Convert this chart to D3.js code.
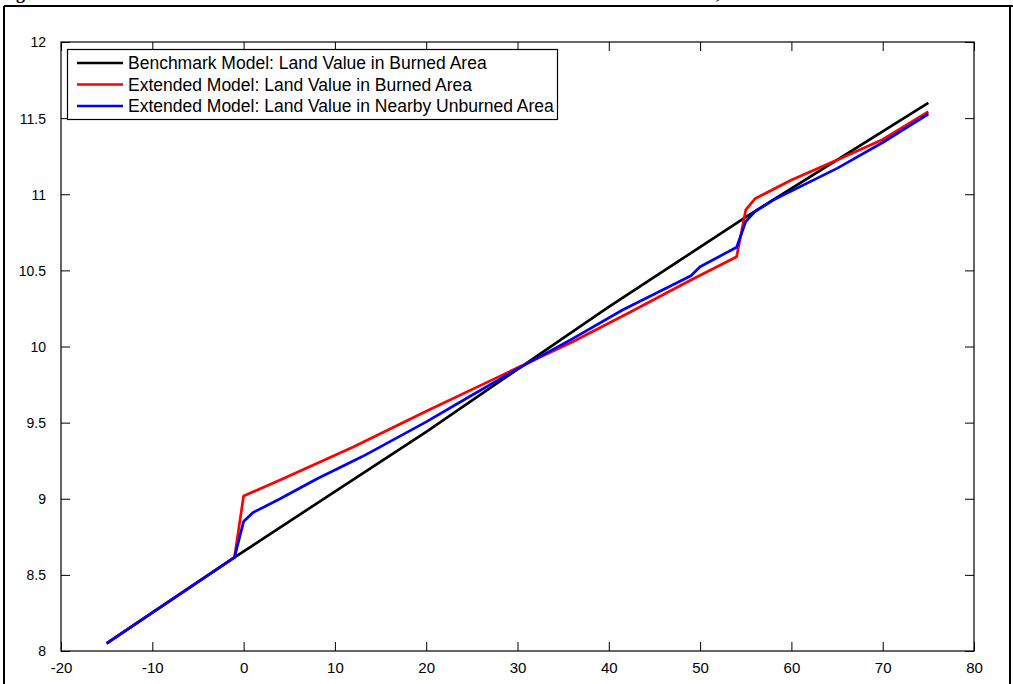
<!DOCTYPE html>
<html><head><meta charset="utf-8">
<script src="https://cdn.jsdelivr.net/npm/d3@7"></script>
<style>body{margin:0;background:#fff}svg{display:block}</style>
</head><body><svg id="c" width="1013" height="684"></svg>
<script>
const xTicks = [-20,-10,0,10,20,30,40,50,60,70,80];
const xTickLabels = ["-20","-10","0","10","20","30","40","50","60","70","80"];
const yTicks = [8,8.5,9,9.5,10,10.5,11,11.5,12];
const yTickLabels = ["8","8.5","9","9.5","10","10.5","11","11.5","12"];
const seriesNames = ["Benchmark Model: Land Value in Burned Area","Extended Model: Land Value in Burned Area","Extended Model: Land Value in Nearby Unburned Area"];
const seriesColors = ["#000000","#ff0000","#0000ff"];
const benchX = [-15,-1,20,40,55,75];
const benchY = [8.05,8.615,9.44,10.26,10.85,11.60];
const burnX = [-15,-1,0,4,12,20,30,36,42,49,54,55,56,60,65,70,75];
const burnY = [8.05,8.615,9.018,9.123,9.34,9.575,9.86,10.03,10.215,10.437,10.59,10.897,10.97,11.094,11.225,11.36,11.542];
const nearX = [-15,-1,0,1,4,8,13,20,25,30,36,41.5,49,50,54,55,56,58,65,70,75];
const nearY = [8.05,8.615,8.85,8.908,9.0,9.13,9.277,9.505,9.68,9.853,10.05,10.24,10.465,10.524,10.652,10.82,10.886,10.962,11.17,11.34,11.527];

const svg = d3.select("#c");
const L=61, R=974, T=42, B=651;
const x = d3.scaleLinear().domain([-20,80]).range([L,R]);
const y = d3.scaleLinear().domain([8,12]).range([B,T]);

// page frame and clipped title (cut off at the top edge, as in the source)
svg.append("text").attr("x",0).attr("y",-1).attr("font-family","Liberation Serif").attr("font-weight","bold").attr("font-size",18).text("Figure");
svg.append("text").attr("x",716).attr("y",-1).attr("font-family","Liberation Serif").attr("font-weight","bold").attr("font-size",18).text(",");
svg.append("line").attr("x1",4).attr("x2",1013).attr("y1",6).attr("y2",6).attr("stroke","#000").attr("stroke-width",2);
svg.append("line").attr("x1",4).attr("x2",4).attr("y1",6).attr("y2",684).attr("stroke","#000").attr("stroke-width",2);
svg.append("line").attr("x1",1010).attr("x2",1010).attr("y1",6).attr("y2",684).attr("stroke","#000").attr("stroke-width",2);

// axes
const tl = 9;
const ax = svg.append("g").attr("transform",`translate(0,${B})`)
  .call(d3.axisBottom(x).tickValues(xTicks).tickSize(-tl).tickPadding(tl+5).tickFormat((d,i)=>xTickLabels[i]));
const ax2 = svg.append("g").attr("transform",`translate(0,${T})`)
  .call(d3.axisTop(x).tickValues(xTicks).tickSize(-tl).tickFormat(""));
const ay = svg.append("g").attr("transform",`translate(${L},0)`)
  .call(d3.axisLeft(y).tickValues(yTicks).tickSize(-tl).tickPadding(tl+6).tickFormat((d,i)=>yTickLabels[i]));
const ay2 = svg.append("g").attr("transform",`translate(${R},0)`)
  .call(d3.axisRight(y).tickValues(yTicks).tickSize(-tl).tickFormat(""));
[ax,ax2,ay,ay2].forEach(g=>{
  g.select(".domain").remove();
  g.selectAll("line").attr("stroke","#000");
  g.selectAll("text").attr("fill","#000").attr("font-size",14).attr("font-family","Liberation Sans");
});
ax.selectAll("text").attr("font-family","Liberation Sans Narrow, Liberation Sans").attr("font-size",15).attr("dy","0.5em");
ay.selectAll("text").attr("dy","0.35em");
svg.append("rect").attr("x",L).attr("y",T).attr("width",R-L).attr("height",B-T).attr("fill","none").attr("stroke","#000").attr("stroke-width",1.2);

// lines
const series = [[benchX,benchY],[burnX,burnY],[nearX,nearY]];
const line = d3.line().x(d=>x(d[0])).y(d=>y(d[1]));
series.forEach((s,i)=>{
  const pts = s[0].map((v,j)=>[v,s[1][j]]);
  svg.append("path").datum(pts).attr("d",line).attr("fill","none")
    .attr("stroke",seriesColors[i]).attr("stroke-width",2.7).attr("stroke-linejoin","round");
});

// legend
const lg = svg.append("g");
lg.append("rect").attr("x",67.5).attr("y",49.5).attr("width",490).attr("height",70).attr("fill","#fff").attr("stroke","#000").attr("stroke-width",1.2);
seriesNames.forEach((n,i)=>{
  const yy = 63 + i*21.5;
  lg.append("line").attr("x1",77).attr("x2",123).attr("y1",yy).attr("y2",yy).attr("stroke",seriesColors[i]).attr("stroke-width",2.7);
  lg.append("text").attr("x",128).attr("y",yy).attr("dy","0.36em").attr("font-family","Liberation Sans").attr("font-size",17.5).text(n);
});
</script></body></html>
